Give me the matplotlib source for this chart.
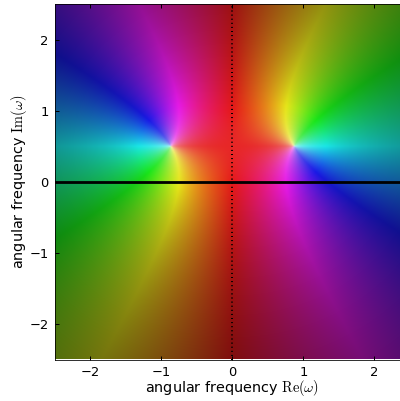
import colorsys
import numpy as np
import matplotlib
matplotlib.use("Agg")
import matplotlib.pyplot as plt

# Poles of the complex response
pole_re = [-0.875, 0.86]
pole_im = [0.5, 0.5]
re_limits = [-2.5, 2.5]
im_limits = [-2.5, 2.5]
ticks = [-2, -1, 0, 1, 2]
xlabel = r"angular frequency $\mathrm{Re}(\omega)$"
ylabel = r"angular frequency $\mathrm{Im}(\omega)$"

W, H, DPI = 400, 401, 72
plt.rcParams["mathtext.fontset"] = "cm"
plt.rcParams["font.family"] = "DejaVu Sans"

fig = plt.figure(figsize=(W / DPI, H / DPI), dpi=DPI)
left, right, top, bottom = 54.5, 410.0, 4.5, 359.5
ax = fig.add_axes([left / W, 1 - bottom / H, (right - left) / W, (bottom - top) / H])

n = 300
re = np.linspace(re_limits[0], re_limits[1], n)
im = np.linspace(im_limits[1], im_limits[0], n)
R, I = np.meshgrid(re, im)
w = R + 1j * I
p = complex(pole_re[1], pole_im[1])
q = complex(pole_re[0], pole_im[0])
z = -1.0 / ((w - p) * (w - q))

hue = (np.angle(z) / (2 * np.pi)) % 1.0
light = 1.0 - 1.0 / (1.0 + np.abs(z) ** 0.42)
rgb = np.array([colorsys.hls_to_rgb(h, l, 0.8) for h, l in zip(hue.ravel(), light.ravel())])
rgb = rgb.reshape(n, n, 3)

ax.imshow(rgb, extent=[re_limits[0], re_limits[1], im_limits[0], im_limits[1]],
          origin="upper", aspect="auto", interpolation="bilinear")
ax.axhline(0, color="black", lw=2.8)
ax.axvline(0, color="black", lw=2.0, ls=(0, (0.5, 1.55)))
ax.set_xlim(re_limits)
ax.set_ylim(im_limits)
ax.set_xticks(ticks)
ax.set_yticks(ticks)
ax.tick_params(direction="in", top=True, right=True, length=4, width=1, labelsize=13, pad=6)
ax.set_xlabel(xlabel, fontsize=14.4, labelpad=0)
ax.set_ylabel(ylabel, fontsize=14.4, labelpad=0)
for s in ax.spines.values():
    s.set_linewidth(0.8)
fig.savefig("out.png", dpi=DPI)
